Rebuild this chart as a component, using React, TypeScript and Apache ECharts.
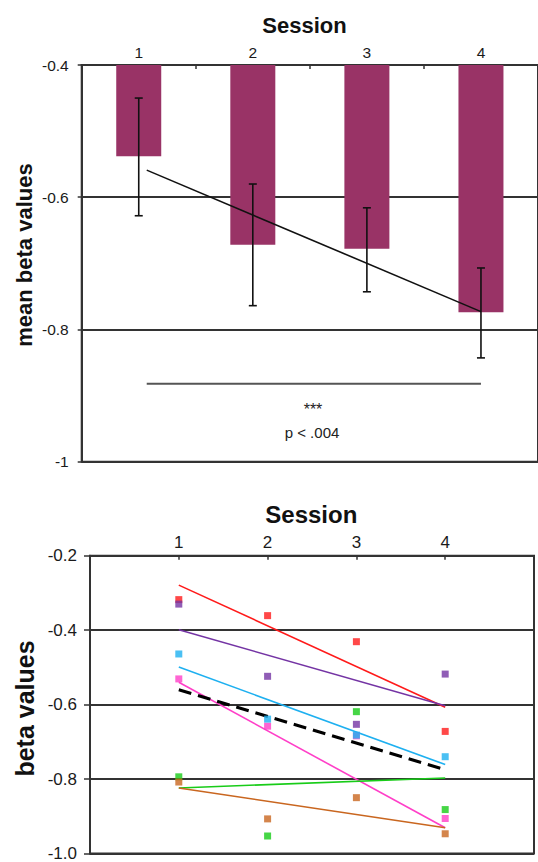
import React, { useEffect, useRef } from "react";
import * as echarts from "echarts";

// ---------- Top chart data ----------
const sessions = ["1", "2", "3", "4"];
const meanBeta = [-0.538, -0.672, -0.678, -0.774];
const errUpper = [-0.450, -0.580, -0.616, -0.707];
const errLower = [-0.628, -0.764, -0.743, -0.843];
const trendLine = [[1.07, -0.559], [4, -0.773]];
const sigLine = [[1.07, -0.882], [4, -0.882]];
const sigStars = "***";
const sigText = "p < .004";

// ---------- Bottom chart data ----------
const sessionNums = [1, 2, 3, 4];
const redBeta = [-0.318, -0.361, -0.431, -0.672];
const purpleBeta = [-0.330, -0.524, -0.653, -0.518];
const magentaBeta = [-0.531, -0.658, -0.684, -0.906];
const cyanBeta = [-0.464, -0.639, -0.682, -0.740];
const greenBeta = [-0.794, -0.953, -0.619, -0.882];
const brownBeta = [-0.808, -0.907, -0.850, -0.947];

const redFit = [-0.279, -0.607];
const purpleFit = [-0.399, -0.603];
const cyanFit = [-0.499, -0.761];
const magentaFit = [-0.540, -0.931];
const greenFit = [-0.824, -0.797];
const brownFit = [-0.824, -0.931];
const meanFit = [-0.560, -0.775];

const FONT = "Liberation Sans, Arial, Helvetica, sans-serif";

const subjects = [
  { name: "red", color: "#ff1a1a", values: redBeta, fit: redFit },
  { name: "purple", color: "#7434a4", values: purpleBeta, fit: purpleFit },
  { name: "magenta", color: "#ff3fc8", values: magentaBeta, fit: magentaFit },
  { name: "cyan", color: "#1eb0f0", values: cyanBeta, fit: cyanFit },
  { name: "green", color: "#18cc18", values: greenBeta, fit: greenFit },
  { name: "brown", color: "#c9661f", values: brownBeta, fit: brownFit },
];

export default function App() {
  const ref = useRef<HTMLDivElement>(null);

  useEffect(() => {
    document.body.style.margin = "0";
    if (!ref.current) return;
    const chart = echarts.init(ref.current, undefined, { renderer: "svg" });

    const axisLabelStyle = { color: "#1a1a1a", fontFamily: FONT };
    const lineCol = "#333";
    const lw = 2;

    const fitSeries = subjects.map((s) => ({
      type: "line",
      xAxisIndex: 2,
      yAxisIndex: 1,
      data: [
        [sessionNums[0], s.fit[0]],
        [sessionNums[3], s.fit[1]],
      ],
      showSymbol: false,
      lineStyle: { color: s.color, width: 1.6 },
      z: 3,
    }));

    const markerSeries = subjects.map((s) => ({
      type: "scatter",
      xAxisIndex: 2,
      yAxisIndex: 1,
      symbol: "rect",
      symbolSize: 7,
      data: sessionNums.map((n, i) => [n, s.values[i]]),
      itemStyle: { color: s.color },
      z: 5,
    }));

    const option: any = {
      animation: false,
      grid: [
        {
          left: 81.7,
          top: 65,
          width: 460.4,
          height: 396.7,
          show: true,
          borderColor: lineCol,
          borderWidth: lw,
          backgroundColor: "transparent",
        },
        {
          left: 90,
          top: 555.7,
          width: 444,
          height: 298.3,
          show: true,
          borderColor: lineCol,
          borderWidth: lw,
          backgroundColor: "transparent",
        },
      ],
      xAxis: [
        {
          type: "category",
          gridIndex: 0,
          position: "top",
          data: sessions,
          boundaryGap: true,
          axisLine: { show: true, lineStyle: { color: lineCol, width: lw } },
          axisTick: { show: true, inside: true, length: 4, lineStyle: { color: lineCol, width: 1.5 } },
          axisLabel: { ...axisLabelStyle, fontSize: 15.5, margin: 5 },
          splitLine: { show: false },
        },
        {
          type: "value",
          gridIndex: 0,
          min: 0.5,
          max: 4.5,
          show: false,
        },
        {
          type: "value",
          gridIndex: 1,
          position: "top",
          min: 0,
          max: 5,
          interval: 1,
          axisLine: { show: true, lineStyle: { color: lineCol, width: lw } },
          axisTick: { show: true, inside: true, length: 4, lineStyle: { color: lineCol, width: 1.5 } },
          axisLabel: {
            ...axisLabelStyle,
            fontSize: 17,
            margin: 5,
            formatter: (v: number) => (v >= 1 && v <= 4 ? String(v) : ""),
          },
          splitLine: { show: false },
        },
      ],
      yAxis: [
        {
          type: "value",
          gridIndex: 0,
          min: -1,
          max: -0.4,
          interval: 0.2,
          axisLine: { show: true, lineStyle: { color: lineCol, width: lw } },
          axisTick: { show: true, length: 4, lineStyle: { color: lineCol, width: 1.5 } },
          axisLabel: {
            ...axisLabelStyle,
            fontSize: 15.5,
            margin: 13,
            formatter: (v: number) => {
              const r = Math.round(v * 10) / 10;
              return r === -1 ? "-1" : r.toFixed(1);
            },
          },
          splitLine: { show: true, lineStyle: { color: lineCol, width: lw } },
        },
        {
          type: "value",
          gridIndex: 1,
          min: -1,
          max: -0.2,
          interval: 0.2,
          axisLine: { show: true, lineStyle: { color: lineCol, width: lw } },
          axisTick: { show: true, length: 6, lineStyle: { color: lineCol, width: 1.5 } },
          axisLabel: {
            ...axisLabelStyle,
            fontSize: 17,
            margin: 13,
            formatter: (v: number) => (Math.round(v * 10) / 10).toFixed(1),
          },
          splitLine: { show: true, lineStyle: { color: lineCol, width: lw } },
        },
      ],
      series: [
        {
          type: "bar",
          xAxisIndex: 0,
          yAxisIndex: 0,
          data: meanBeta,
          barWidth: 45,
          clip: true,
          itemStyle: { color: "#993366" },
          z: 2,
        },
        {
          type: "custom",
          xAxisIndex: 1,
          yAxisIndex: 0,
          data: sessions.map((_, i) => [i + 1, errUpper[i], errLower[i]]),
          encode: { x: 0, y: [1, 2] },
          z: 4,
          renderItem: (params: any, api: any) => {
            const x = api.value(0);
            const hi = api.coord([x, api.value(1)]);
            const lo = api.coord([x, api.value(2)]);
            const w = 4;
            const st = { stroke: "#111", lineWidth: 1.6 };
            return {
              type: "group",
              children: [
                { type: "line", shape: { x1: hi[0], y1: hi[1], x2: lo[0], y2: lo[1] }, style: st },
                { type: "line", shape: { x1: hi[0] - w, y1: hi[1], x2: hi[0] + w, y2: hi[1] }, style: st },
                { type: "line", shape: { x1: lo[0] - w, y1: lo[1], x2: lo[0] + w, y2: lo[1] }, style: st },
              ],
            };
          },
        },
        {
          type: "line",
          xAxisIndex: 1,
          yAxisIndex: 0,
          data: trendLine,
          showSymbol: false,
          lineStyle: { color: "#111", width: 1.6 },
          z: 5,
        },
        {
          type: "line",
          xAxisIndex: 1,
          yAxisIndex: 0,
          data: sigLine,
          showSymbol: false,
          lineStyle: { color: "#555", width: 2 },
          z: 5,
        },
        ...fitSeries,
        {
          type: "line",
          xAxisIndex: 2,
          yAxisIndex: 1,
          data: [
            [sessionNums[0], meanFit[0]],
            [sessionNums[3], meanFit[1]],
          ],
          showSymbol: false,
          lineStyle: { color: "#000", width: 3, type: [13, 7] },
          z: 4,
        },
        ...markerSeries,
      ],
      graphic: [
        {
          type: "text",
          x: 304.5,
          y: 25,
          style: {
            text: "Session",
            fontSize: 22,
            fontWeight: "bold",
            fontFamily: FONT,
            fill: "#111",
            textAlign: "center",
            textVerticalAlign: "middle",
            align: "center",
            verticalAlign: "middle",
          },
        },
        {
          type: "text",
          x: 24.5,
          y: 255,
          rotation: Math.PI / 2,
          style: {
            text: "mean beta values",
            fontSize: 22,
            fontWeight: "bold",
            fontFamily: FONT,
            fill: "#111",
            textAlign: "center",
            textVerticalAlign: "middle",
            align: "center",
            verticalAlign: "middle",
          },
        },
        {
          type: "text",
          x: 313,
          y: 409,
          style: {
            text: sigStars,
            fontSize: 16,
            fontFamily: FONT,
            fill: "#222",
            textAlign: "center",
            textVerticalAlign: "middle",
            align: "center",
            verticalAlign: "middle",
          },
        },
        {
          type: "text",
          x: 312,
          y: 432,
          style: {
            text: sigText,
            fontSize: 15,
            fontFamily: FONT,
            fill: "#222",
            textAlign: "center",
            textVerticalAlign: "middle",
            align: "center",
            verticalAlign: "middle",
          },
        },
        {
          type: "text",
          x: 311.3,
          y: 514,
          style: {
            text: "Session",
            fontSize: 24,
            fontWeight: "bold",
            fontFamily: FONT,
            fill: "#111",
            textAlign: "center",
            textVerticalAlign: "middle",
            align: "center",
            verticalAlign: "middle",
          },
        },
        {
          type: "text",
          x: 25,
          y: 708.5,
          rotation: Math.PI / 2,
          style: {
            text: "beta values",
            fontSize: 25,
            fontWeight: "bold",
            fontFamily: FONT,
            fill: "#111",
            textAlign: "center",
            textVerticalAlign: "middle",
            align: "center",
            verticalAlign: "middle",
          },
        },
      ],
    };

    chart.setOption(option);
    return () => {
      chart.dispose();
    };
  }, []);

  return <div ref={ref} style={{ width: 538, height: 862 }} />;
}
